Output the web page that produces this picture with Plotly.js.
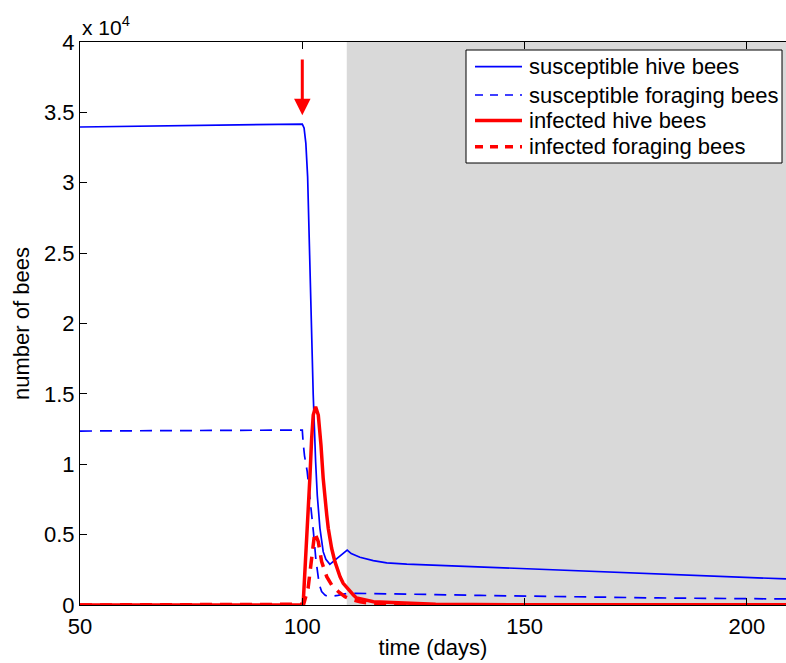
<!DOCTYPE html>
<html>
<head>
<meta charset="utf-8">
<script src="https://cdn.plot.ly/plotly-3.0.1.min.js"></script>
<style>html,body{margin:0;padding:0;background:#fff;overflow:hidden;}#chart{width:786px;height:663px;}</style>
</head>
<body>
<div id="chart"></div>
<script>
// values in units of 10^4 bees
const tSH = [50, 60, 70, 80, 90, 100, 100.4, 100.8, 101.2, 101.56, 101.88, 102.24, 102.46, 103.0, 103.37, 103.97, 104.7, 105.3, 105.84, 106.2, 107.0, 108.0, 109.0, 110.1, 111.0, 112.96, 115.96, 119, 123.5, 130, 138.4, 150, 159.1, 170, 180.4, 195, 208.8];
const susHive = [3.396, 3.40, 3.404, 3.408, 3.412, 3.417, 3.39, 3.28, 3.043, 2.572, 2.096, 1.622, 1.492, 1.018, 0.78, 0.545, 0.379, 0.325, 0.30, 0.289, 0.31, 0.335, 0.36, 0.39, 0.365, 0.339, 0.315, 0.30, 0.291, 0.283, 0.272, 0.258, 0.245, 0.232, 0.218, 0.20, 0.185];

const tSF = [50, 75, 100, 100.2, 100.5, 101.1, 101.7, 101.9, 102.5, 103.07, 103.37, 103.8, 104.35, 105.1, 105.84, 107, 108, 109, 110.2, 112, 115, 120, 130, 140, 159.1, 180, 208.8];
const susForage = [1.236, 1.24, 1.243, 1.15, 1.06, 0.95, 0.78, 0.70, 0.52, 0.32, 0.24, 0.149, 0.095, 0.071, 0.059, 0.062, 0.068, 0.075, 0.083, 0.083, 0.082, 0.079, 0.074, 0.068, 0.057, 0.05, 0.043];

const tIH = [50, 100, 100.2, 100.6, 101.2, 101.7, 102.1, 102.46, 103.0, 103.6, 104.2, 104.7, 105.5, 105.84, 106.6, 107.34, 108.5, 109.2, 111.5, 112.2, 116, 123.5, 130, 150, 208.8];
const infHive = [0, 0, 0.01, 0.237, 0.545, 0.90, 1.18, 1.35, 1.409, 1.35, 1.137, 0.90, 0.64, 0.545, 0.403, 0.308, 0.2, 0.154, 0.071, 0.05, 0.023, 0.01, 0.005, 0.002, 0.001];

const tIF = [50, 100, 100.3, 101.3, 102.1, 102.8, 103.6, 104.35, 105.5, 106.6, 108.1, 109.6, 111, 113, 116, 125, 208.8];
const infForage = [0, 0, 0.005, 0.118, 0.355, 0.515, 0.45, 0.308, 0.201, 0.142, 0.095, 0.059, 0.04, 0.023, 0.008, 0.002, 0];

const seriesNames = ['susceptible hive bees', 'susceptible foraging bees', 'infected hive bees', 'infected foraging bees'];
const seriesColors = ['#0000ff', '#0000ff', '#ff0000', '#ff0000'];
const seriesWidths = [1.7, 1.7, 3.5, 3.5];
const seriesDash = ['solid', '12px,8px', 'solid', '12px,8px'];
const yTicks = [0, 0.5, 1, 1.5, 2, 2.5, 3, 3.5, 4];
const yTickText = ['0', '0.5', '1', '1.5', '2', '2.5', '3', '3.5', '4'];
const xTicks = [50, 100, 150, 200];
const xRange = [50, 208.8];
const shadeStart = 110;
const arrowX = 100, arrowTail = 3.886, arrowTip = 3.48;

const FONT = 'Liberation Sans, Arial, Helvetica, sans-serif';

const xs = [tSH, tSF, tIH, tIF];
const ys = [susHive, susForage, infHive, infForage];
const traces = xs.map((x, i) => ({
  x: x, y: ys[i], name: seriesNames[i], mode: 'lines', showlegend: false,
  line: {color: seriesColors[i], width: seriesWidths[i], dash: seriesDash[i]}
}));

// manual legend box (paper coordinates)
const plotL = 80, plotR = 786, plotT = 42, plotB = 605;
const px = v => (v - plotL) / (plotR - plotL);
const py = v => (plotB - v) / (plotB - plotT);
const legRows = [66.7, 95, 120.5, 146.7];
const legendDash = ['solid', '8px,7px', 'solid', '8px,7px'];

const shapes = [
  {type: 'rect', xref: 'x', yref: 'y', x0: shadeStart, x1: xRange[1], y0: 0, y1: 4, fillcolor: '#d9d9d9', line: {width: 0}, layer: 'below'},
  {type: 'rect', xref: 'paper', yref: 'paper', x0: px(466), x1: px(782), y0: py(163), y1: py(50), fillcolor: '#ffffff', line: {color: '#000', width: 1}, layer: 'above'}
];
const annotations = [
  {xref: 'paper', yref: 'paper', x: 0, y: 1, xanchor: 'left', yanchor: 'bottom', yshift: 1, showarrow: false,
   text: 'x 10<sup>4</sup>', font: {family: FONT, size: 21, color: '#000'}},
  {x: arrowX, y: arrowTip, ax: arrowX, ay: arrowTail, xref: 'x', yref: 'y', axref: 'x', ayref: 'y',
   showarrow: true, arrowcolor: '#ff0000', arrowwidth: 3, arrowhead: 2, arrowsize: 1.1, text: ''}
];
seriesNames.forEach((nm, i) => {
  shapes.push({type: 'line', xref: 'paper', yref: 'paper', x0: px(475), x1: px(522), y0: py(legRows[i]), y1: py(legRows[i]),
               line: {color: seriesColors[i], width: seriesWidths[i], dash: legendDash[i]}, layer: 'above'});
  annotations.push({xref: 'paper', yref: 'paper', x: px(527), y: py(legRows[i]), xanchor: 'left', yanchor: 'middle',
                    showarrow: false, text: nm, font: {family: FONT, size: 22, color: '#000'}});
});

const layout = {
  width: 786, height: 663,
  margin: {l: plotL, r: 0, t: plotT, b: 663 - plotB},
  paper_bgcolor: '#ffffff', plot_bgcolor: '#ffffff',
  font: {family: FONT, size: 22, color: '#000'},
  showlegend: false,
  xaxis: {range: xRange, tickvals: xTicks, ticks: 'inside', ticklen: 7, tickcolor: '#000',
          showline: true, linecolor: '#000', linewidth: 1, mirror: 'ticks', showgrid: false, zeroline: false,
          ticklabelstandoff: 2,
          title: {text: 'time (days)', font: {family: FONT, size: 22}, standoff: 1},
          tickfont: {family: FONT, size: 22}},
  yaxis: {range: [0, 4], tickvals: yTicks, ticktext: yTickText, ticks: 'inside', ticklen: 7, tickcolor: '#000',
          showline: true, linecolor: '#000', linewidth: 1, showgrid: false, zeroline: false,
          title: {text: 'number of bees', font: {family: FONT, size: 22}, standoff: 8},
          tickfont: {family: FONT, size: 22}},
  shapes: shapes,
  annotations: annotations
};

Plotly.newPlot('chart', traces, layout, {displayModeBar: false, staticPlot: true});
</script>
</body>
</html>
